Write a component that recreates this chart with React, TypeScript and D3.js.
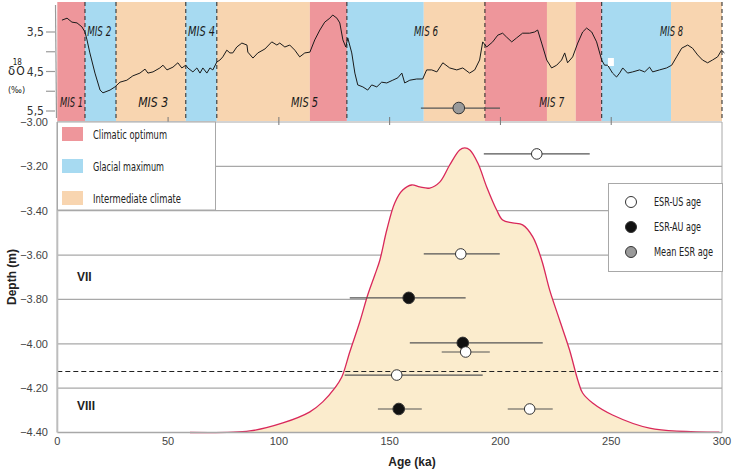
import React from "react";
import * as d3 from "d3";

const W = 735, H = 471;

// climate bands (ka)
const bandStarts = [0, 12.5, 26.5, 58, 72, 114, 130.7, 165.4, 193, 221, 234, 245.7, 277];
const bandEnds = [12.5, 26.5, 58, 72, 114, 130.7, 165.4, 193, 221, 234, 245.7, 277, 300];
const bandTypes = ["opt", "gla", "int", "gla", "int", "opt", "gla", "int", "opt", "int", "opt", "gla", "int"];
const misBoundaries = [12.5, 26.5, 58, 72, 130.7, 193, 245.7, 300];
const misLabels = ["MIS 1", "MIS 2", "MIS 3", "MIS 4", "MIS 5", "MIS 6", "MIS 7", "MIS 8"];
const misLabelAge = [1.2, 13.5, 36.5, 59, 105.5, 161, 217.5, 272];
const misLabelLow = [true, false, true, false, true, false, true, false];
const misLabelWidth = [23, 24, 30, 27, 27, 24, 25, 23];

// δ18O curve
const d18Age = [2.1, 4.4, 6.6, 8.9, 11.1, 12.5, 13.4, 14.7, 17.0, 19.3, 20.6, 23.8, 26.0, 28.3, 31.4, 34.1, 37.3, 39.6, 40.9, 43.2, 46.3, 47.7, 49.5, 52.2, 54.4, 56.2, 58.0, 58.9, 61.2, 63.0, 64.4, 65.7, 67.5, 68.9, 70.2, 72.0, 73.4, 74.7, 76.5, 77.9, 79.2, 81.0, 83.3, 85.6, 86.0, 88.3, 90.5, 93.7, 96.8, 99.1, 100.4, 102.7, 104.9, 107.2, 109.4, 111.7, 114.0, 116.2, 118.5, 120.7, 123.0, 124.3, 126.2, 127.5, 128.9, 130.2, 131.1, 132.9, 134.3, 135.6, 137.9, 140.1, 141.9, 144.2, 146.4, 148.7, 151.4, 153.7, 155.5, 156.8, 159.1, 162.2, 164.9, 166.7, 169.0, 171.3, 174.0, 177.1, 180.3, 183.0, 186.1, 188.4, 190.6, 192.0, 193.8, 196.5, 198.8, 201.0, 202.8, 205.1, 207.3, 210.0, 213.2, 215.4, 216.8, 218.6, 220.9, 223.1, 225.4, 227.6, 229.0, 230.3, 232.6, 234.9, 237.1, 238.9, 241.2, 243.4, 245.7, 247.0, 248.4, 250.6, 252.4, 253.8, 255.2, 257.4, 259.7, 262.8, 265.1, 267.3, 268.7, 271.8, 275.0, 277.3, 279.5, 281.8, 284.5, 286.7, 289.0, 291.2, 293.5, 295.7, 298.0, 299.8, 301.1];
const d18Val = [3.20, 3.15, 3.25, 3.27, 3.37, 3.50, 3.70, 4.03, 4.54, 4.97, 5.04, 4.97, 4.89, 4.77, 4.72, 4.61, 4.54, 4.44, 4.54, 4.51, 4.41, 4.34, 4.46, 4.39, 4.28, 4.41, 4.34, 4.41, 4.51, 4.41, 4.54, 4.41, 4.54, 4.41, 4.46, 4.26, 4.21, 4.13, 3.96, 4.03, 4.03, 3.88, 3.78, 3.83, 4.01, 4.16, 4.03, 3.93, 3.75, 3.83, 3.78, 3.88, 3.83, 3.96, 4.13, 4.03, 4.01, 3.70, 3.45, 3.25, 3.15, 3.07, 3.15, 3.27, 3.70, 3.88, 3.65, 4.03, 4.54, 4.84, 4.89, 4.97, 4.84, 4.89, 4.77, 4.79, 4.72, 4.66, 4.54, 4.79, 4.72, 4.69, 4.69, 4.46, 4.46, 4.51, 4.28, 4.41, 4.46, 4.41, 4.54, 4.46, 4.21, 3.75, 3.88, 3.75, 3.58, 3.53, 3.63, 3.75, 3.65, 3.53, 3.53, 3.50, 3.45, 3.78, 4.21, 4.41, 4.34, 4.21, 4.03, 4.28, 4.13, 3.78, 3.50, 3.40, 3.50, 3.75, 4.21, 4.34, 4.34, 4.54, 4.64, 4.54, 4.41, 4.54, 4.51, 4.46, 4.51, 4.39, 4.51, 4.46, 4.41, 4.34, 4.13, 3.91, 3.83, 3.91, 4.08, 4.21, 4.28, 4.21, 4.13, 3.96, 4.03];
const d18Ticks = [3.5, 4.0, 4.5, 5.0, 5.5];
const d18Labels = ["3,5", "", "4,5", "", "5,5"];

// age probability envelope (plotted on depth axis)
const densAge = [59.9, 86.9, 101.8, 114.0, 119.8, 125.3, 128.4, 132.0, 136.5, 140.1, 143.3, 145.6, 148.7, 152.3, 155.9, 159.9, 163.6, 168.1, 172.6, 177.1, 181.6, 183.9, 186.2, 189.8, 193.8, 198.3, 201.0, 205.5, 210.0, 214.6, 218.6, 222.2, 226.7, 231.2, 234.9, 237.1, 241.6, 250.6, 267.3, 298.8];
const densDepth = [-4.40, -4.393, -4.357, -4.307, -4.262, -4.199, -4.150, -4.037, -3.902, -3.780, -3.690, -3.622, -3.487, -3.365, -3.307, -3.284, -3.293, -3.298, -3.271, -3.194, -3.126, -3.117, -3.126, -3.185, -3.293, -3.397, -3.442, -3.455, -3.464, -3.518, -3.622, -3.757, -3.893, -4.028, -4.163, -4.222, -4.267, -4.321, -4.380, -4.398];

// ESR ages
const esrType = ["US", "US", "AU", "AU", "US", "US", "AU", "US", "MEAN"];
const esrAge = [216.4, 182.1, 158.6, 183.0, 184.3, 153.2, 154.1, 213.2, 181.2];
const esrDepth = [-3.144, -3.595, -3.793, -3.996, -4.037, -4.141, -4.294, -4.294, -2.937];
const esrLow = [192.5, 165.4, 132.0, 159.1, 173.5, 129.7, 144.7, 203.3, 164.1];
const esrHigh = [240.3, 199.7, 184.3, 219.1, 195.2, 192.0, 164.5, 223.6, 199.8];

const depthTicks = [-3.0, -3.2, -3.4, -3.6, -3.8, -4.0, -4.2, -4.4];
const ageTicks = [0, 50, 100, 150, 200, 250, 300];
const unitDivider = -4.125;

const climateLegend = ["Climatic optimum", "Glacial maximum", "Intermediate climate"];
const climateKeys = ["opt", "gla", "int"];
const climateLegendWidth = [74, 71, 88];
const esrLegend = ["ESR-US age", "ESR-AU age", "Mean ESR age"];
const esrLegendKeys = ["US", "AU", "MEAN"];
const esrLegendWidth = [47, 47, 59];

const bandColor: Record<string, string> = { opt: "#ee969b", gla: "#a7daf1", int: "#f8d5b0" };
const dotFill: Record<string, string> = { US: "#ffffff", AU: "#111111", MEAN: "#9a9a9a" };

const CONDENSED = "'Liberation Sans Narrow', 'DejaVu Sans Condensed', 'Roboto Condensed', sans-serif";
const SANS = "'Liberation Sans', Arial, sans-serif";

export default function App() {
  const x = d3.scaleLinear().domain([0, 300]).range([57.3, 722]);
  const y = d3.scaleLinear().domain([-3.0, -4.4]).range([122, 432.5]);
  const yd = d3.scaleLinear().domain([3.5, 5.5]).range([32, 111]);
  const topY0 = 2, topY1 = 121;

  const d18Line = d3.line<number>()
    .x((_, i) => x(d18Age[i]))
    .y((v) => yd(v))
    .curve(d3.curveLinear)(d18Val) || "";

  const densPts = densAge.map((a, i) => [a, densDepth[i]] as [number, number]);
  const densLine = d3.line<[number, number]>()
    .x((d) => x(d[0])).y((d) => y(d[1]))
    .curve(d3.curveCatmullRom.alpha(0.5))(densPts) || "";
  const densArea = d3.area<[number, number]>()
    .x((d) => x(d[0])).y0(y(-4.4)).y1((d) => y(d[1]))
    .curve(d3.curveCatmullRom.alpha(0.5))(densPts) || "";

  const x0 = x(0), x1 = x(300);

  return (
    <svg width={W} height={H} style={{ display: "block", position: "absolute", left: 0, top: 0 }}>
      <rect x={0} y={0} width={W} height={H} fill="#fff" />
      {/* main grid lines */}
      {depthTicks.slice(1, -1).map((t) => (
        <line key={t} x1={x0} x2={x1} y1={y(t)} y2={y(t)} stroke="#a8a8a8" strokeWidth={1.2} />
      ))}
      {/* density envelope */}
      <path d={densArea} fill="#fbeccd" stroke="none" />
      <path d={densLine} fill="none" stroke="#d9285a" strokeWidth={1.3} />
      {/* unit divider */}
      <line x1={x0} x2={x1} y1={y(unitDivider)} y2={y(unitDivider)} stroke="#222" strokeWidth={1} strokeDasharray="5,3" />
      {/* axes frame */}
      <line x1={x0} x2={x1} y1={y(-4.4)} y2={y(-4.4)} stroke="#a8a8a8" strokeWidth={1.5} />
      <line x1={x0} x2={x0} y1={y(-3.0)} y2={y(-4.4)} stroke="#bdbdbd" strokeWidth={2} />
      <line x1={x1} x2={x1} y1={y(-3.0)} y2={y(-4.4)} stroke="#a8a8a8" strokeWidth={1} />

      {/* top panel bands */}
      {bandStarts.map((s, i) => (
        <rect key={i} x={x(s)} y={topY0} width={x(bandEnds[i]) - x(s)} height={topY1 - topY0} fill={bandColor[bandTypes[i]]} />
      ))}
      <line x1={x0} x2={x1} y1={y(-3.0)} y2={y(-3.0)} stroke="#a8a8a8" strokeWidth={1.2} />
      {misBoundaries.map((b) => (
        <line key={b} x1={x(b)} x2={x(b)} y1={topY0} y2={topY1} stroke="#222" strokeWidth={1} strokeDasharray="4,3" />
      ))}
      {ageTicks.slice(1, -1).map((t) => (
        <line key={t} x1={x(t)} x2={x(t)} y1={117} y2={125} stroke="#777" strokeWidth={1} />
      ))}
      {misLabels.map((m, i) => (
        <text key={m} x={x(misLabelAge[i])} y={misLabelLow[i] ? 107 : 36} fontFamily={CONDENSED} fontStyle="italic" fontSize={14}
          fill="#1a1a1a" textLength={misLabelWidth[i]} lengthAdjust="spacingAndGlyphs">{m}</text>
      ))}
      <path d={d18Line} fill="none" stroke="#1a1a1a" strokeWidth={1} />
      <rect x={x(248.5)} y={58} width={6} height={8} fill="#fff" />
      {/* top-left axis */}
      <line x1={55.5} x2={56.5} y1={5} y2={118} stroke="#9a9a9a" strokeWidth={1.2} />
      {d18Ticks.map((t, i) => (
        <g key={t}>
          <line x1={46} x2={55} y1={yd(t)} y2={yd(t)} stroke="#9a9a9a" strokeWidth={1.2} />
          {d18Labels[i] && (
            <text x={44} y={yd(t)} dy="0.35em" textAnchor="end" fontFamily={CONDENSED} fontSize={12} fill="#333">{d18Labels[i]}</text>
          )}
        </g>
      ))}
      <text x={8} y={75} fontFamily={CONDENSED} fontSize={13} fill="#222">
        δ<tspan dx={-2.5} dy={-10} fontSize={8}>18</tspan><tspan dx={-5.5} dy={10} fontSize={12}>O</tspan>
      </text>
      <text x={16.5} y={93} textAnchor="middle" fontFamily={CONDENSED} fontSize={9} fill="#222">(‰)</text>

      {/* ESR ages */}
      {esrAge.map((a, i) => (
        <g key={i}>
          <line x1={x(esrLow[i])} x2={x(esrHigh[i])} y1={y(esrDepth[i])} y2={y(esrDepth[i])} stroke="#555" strokeWidth={1.2} />
          <circle cx={x(a)} cy={y(esrDepth[i])} r={esrType[i] === "US" ? 5.3 : 5.8} fill={dotFill[esrType[i]]} stroke="#333" strokeWidth={1} />
        </g>
      ))}

      {/* y ticks */}
      {depthTicks.map((t) => (
        <text key={t} x={48} y={y(t)} dy="0.35em" textAnchor="end" fontFamily={SANS} fontSize={11} fill="#444">{d3.format(".2f")(t)}</text>
      ))}
      {ageTicks.map((t) => (
        <text key={t} x={x(t)} y={445} textAnchor="middle" fontFamily={SANS} fontSize={11} fill="#444">{t}</text>
      ))}
      <text x={412} y={466} textAnchor="middle" fontFamily={SANS} fontWeight="bold" fontSize={12} fill="#222">Age (ka)</text>
      <text transform="translate(16,277) rotate(-90)" textAnchor="middle" fontFamily={SANS} fontWeight="bold" fontSize={12} fill="#222">Depth (m)</text>
      <text x={77} y={281} fontFamily={SANS} fontWeight="bold" fontSize={12} fill="#222">VII</text>
      <text x={77} y={410} fontFamily={SANS} fontWeight="bold" fontSize={12} fill="#222">VIII</text>

      {/* climate legend */}
      <rect x={57.5} y={122} width={158} height={88} fill="#fff" stroke="#a8a8a8" strokeWidth={1} />
      {climateLegend.map((l, i) => (
        <g key={l}>
          <rect x={62} y={127 + i * 32} width={21} height={14} fill={bandColor[climateKeys[i]]} />
          <text x={93} y={134 + i * 32} dy="0.35em" fontFamily={CONDENSED} fontSize={13} fill="#222"
            textLength={climateLegendWidth[i]} lengthAdjust="spacingAndGlyphs">{l}</text>
        </g>
      ))}

      {/* ESR legend */}
      <rect x={608.5} y={183.5} width={114} height={88} fill="#fff" stroke="#a8a8a8" strokeWidth={1} />
      {esrLegend.map((l, i) => (
        <g key={l}>
          <circle cx={631} cy={202 + i * 25} r={5.5} fill={dotFill[esrLegendKeys[i]]} stroke="#333" strokeWidth={1} />
          <text x={654} y={202 + i * 25} dy="0.35em" fontFamily={CONDENSED} fontSize={12.5} fill="#222"
            textLength={esrLegendWidth[i]} lengthAdjust="spacingAndGlyphs">{l}</text>
        </g>
      ))}
    </svg>
  );
}
